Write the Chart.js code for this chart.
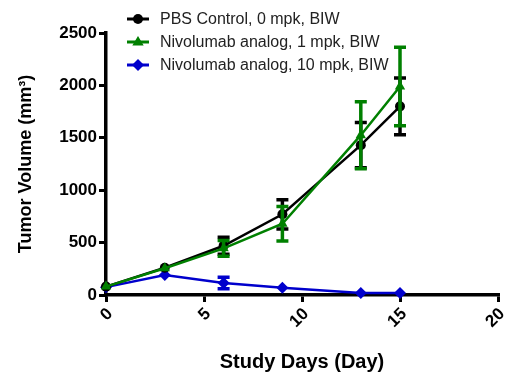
<!DOCTYPE html>
<html><head><meta charset="utf-8">
<script src="https://cdn.jsdelivr.net/npm/chart.js@4"></script>
<style>html,body{margin:0;padding:0;background:#fff;} #wrap{width:524px;height:380px;}</style>
</head><body><div id="wrap"><canvas id="c" width="524" height="380"></canvas></div>
<script>
// ---- data ----
const days = [0, 3, 6, 9, 13, 15];
const seriesNames = ['PBS Control, 0 mpk, BIW', 'Nivolumab analog, 1 mpk, BIW', 'Nivolumab analog, 10 mpk, BIW'];
const pbsMean   = [80, 260, 470, 770, 1430, 1800];
const pbsSem    = [10, 20, 80, 140, 215, 270];
const nivo1Mean = [80, 255, 445, 680, 1525, 1990];
const nivo1Sem  = [10, 20, 75, 165, 320, 375];
const nivo10Mean = [75, 190, 115, 70, 20, 20];
const nivo10Sem  = [5, 15, 55, 10, 5, 5];
const xTicks = [0, 5, 10, 15, 20];
const yTicks = [0, 500, 1000, 1500, 2000, 2500];
const xTitle = 'Study Days (Day)';
const yTitle = 'Tumor Volume (mm\u00B3)';

const FONT = '"Liberation Sans", Arial, Helvetica, sans-serif';
const colors = ['#000000', '#008000', '#0000cc'];
const styles = ['circle', 'triangle', 'rectRot'];
const radii = [5, 6, 6];

function pts(mean) { return days.map((d, i) => ({ x: d, y: mean[i] })); }

function drawMarker(ctx, style, x, y, r, color) {
  ctx.save();
  ctx.fillStyle = color;
  ctx.beginPath();
  if (style === 'circle') {
    ctx.arc(x, y, r, 0, Math.PI * 2);
  } else if (style === 'triangle') {
    ctx.moveTo(x, y - r);
    ctx.lineTo(x + r * 0.95, y + r * 0.6);
    ctx.lineTo(x - r * 0.95, y + r * 0.6);
    ctx.closePath();
  } else {
    ctx.moveTo(x, y - r); ctx.lineTo(x + r, y); ctx.lineTo(x, y + r); ctx.lineTo(x - r, y); ctx.closePath();
  }
  ctx.fill();
  ctx.restore();
}

const errorBars = {
  id: 'errorBars',
  afterDatasetDraw(chart, args) {
    const ds = chart.data.datasets[args.index];
    if (!ds.errors) return;
    const ctx = chart.ctx, ys = chart.scales.y;
    ctx.save();
    ctx.strokeStyle = ds.borderColor;
    ctx.lineWidth = 3.5;
    ctx.lineCap = 'butt';
    args.meta.data.forEach((el, i) => {
      const v = ds.data[i].y, e = ds.errors[i];
      const yt = ys.getPixelForValue(v + e), yb = ys.getPixelForValue(v - e);
      if (yb - yt < 9) return;
      const x = el.x;
      ctx.beginPath();
      ctx.moveTo(x, yt); ctx.lineTo(x, yb);
      ctx.moveTo(x - 6, yt); ctx.lineTo(x + 6, yt);
      ctx.moveTo(x - 6, yb); ctx.lineTo(x + 6, yb);
      ctx.stroke();
    });
    ctx.restore();
  }
};

const customLegend = {
  id: 'customLegend',
  afterDraw(chart) {
    const ctx = chart.ctx;
    const rows = [19, 42, 65];
    ctx.save();
    ctx.font = '16px ' + FONT;
    ctx.textBaseline = 'middle';
    ctx.textAlign = 'left';
    seriesNames.forEach((name, i) => {
      const y = rows[i];
      ctx.strokeStyle = colors[i];
      ctx.lineWidth = 3;
      ctx.beginPath(); ctx.moveTo(127, y); ctx.lineTo(149, y); ctx.stroke();
      drawMarker(ctx, styles[i], 138, y, radii[i], colors[i]);
      ctx.fillStyle = '#222';
      ctx.fillText(name, 160, y + 1);
    });
    ctx.restore();
  }
};

const white = { id: 'white', beforeDraw(c) { c.ctx.save(); c.ctx.fillStyle = '#fff'; c.ctx.fillRect(0, 0, c.width, c.height); c.ctx.restore(); } };

const means = [pbsMean, nivo1Mean, nivo10Mean];
const sems = [pbsSem, nivo1Sem, nivo10Sem];
const orders = [1, 0, 2];

const datasets = seriesNames.map((name, i) => ({
  label: name,
  data: pts(means[i]),
  errors: sems[i],
  borderColor: colors[i],
  backgroundColor: colors[i],
  pointBackgroundColor: colors[i],
  pointBorderColor: colors[i],
  pointStyle: styles[i],
  pointRadius: radii[i],
  pointBorderWidth: 0,
  borderWidth: 2.5,
  tension: 0,
  order: orders[i],
  clip: false
}));

Chart.defaults.font.family = FONT;

new Chart(document.getElementById('c'), {
  type: 'line',
  data: { datasets },
  options: {
    responsive: false,
    animation: false,
    devicePixelRatio: 1,
    layout: { padding: { top: 33, right: 26, bottom: 0, left: 0 } },
    plugins: { legend: { display: false }, tooltip: { enabled: false } },
    scales: {
      x: {
        type: 'linear', min: 0, max: 20,
        afterBuildTicks: s => { s.ticks = xTicks.map(v => ({ value: v })); },
        afterFit: s => { s.height = 85; },
        ticks: { color: '#000', font: { size: 17, weight: 'bold' }, maxRotation: 45, minRotation: 45, padding: 2, labelOffset: 4, callback: v => String(v) },
        grid: { drawOnChartArea: false, drawTicks: true, tickLength: 7, lineWidth: 3, color: '#000' },
        border: { display: true, width: 3.5, color: '#000' },
        title: { display: true, text: xTitle, color: '#000', font: { size: 20, weight: 'bold' }, padding: { top: 0, bottom: 6 } }
      },
      y: {
        type: 'linear', min: 0, max: 2500,
        afterBuildTicks: s => { s.ticks = yTicks.map(v => ({ value: v })); },
        afterFit: s => { s.width = 106; },
        ticks: { color: '#000', font: { size: 17, weight: 'bold' }, padding: 2, callback: v => String(v) },
        grid: { drawOnChartArea: false, drawTicks: true, tickLength: 7, lineWidth: 3, color: '#000' },
        border: { display: true, width: 3.5, color: '#000' },
        title: { display: true, text: yTitle, color: '#000', font: { size: 18, weight: 'bold' }, padding: { top: 15, bottom: 0 } }
      }
    }
  },
  plugins: [white, errorBars, customLegend]
});
</script>
</body></html>
